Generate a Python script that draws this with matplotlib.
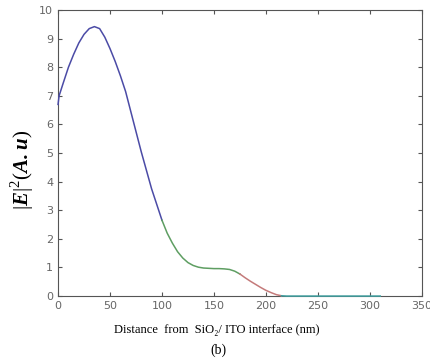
import matplotlib.pyplot as plt

# data: |E|^2 vs distance (nm)
dist = [0, 1, 5, 10, 15, 20, 25, 30, 35, 40, 45, 50, 55, 60, 65, 70, 75, 80,
        85, 90, 95, 100, 105, 110, 115, 120, 125, 130, 135, 140, 145, 150,
        155, 160, 165, 170, 175, 180, 185, 190, 195, 200, 205, 210, 215,
        220, 240, 260, 280, 300, 310]
field = [6.7, 7.0, 7.45, 8.0, 8.45, 8.85, 9.15, 9.35, 9.42, 9.35, 9.05, 8.65,
         8.2, 7.7, 7.15, 6.45, 5.75, 5.05, 4.4, 3.75, 3.2, 2.65, 2.2, 1.85,
         1.55, 1.33, 1.17, 1.07, 1.01, 0.98, 0.97, 0.96, 0.96, 0.95, 0.93,
         0.87, 0.77, 0.64, 0.52, 0.41, 0.3, 0.2, 0.12, 0.05, 0.01,
         0.0, 0.0, 0.0, 0.0, 0.0, 0.0]

# layer boundaries (nm) and colours of each segment
bounds = [0, 100, 175, 215, 310]
colors = ["#4b4ba6", "#5e9e62", "#c47a7a", "#3f9f9f"]

plt.rcParams['mathtext.fontset'] = 'custom'
plt.rcParams['mathtext.rm'] = 'Liberation Serif'
plt.rcParams['mathtext.bf'] = 'Liberation Serif:bold:italic'

fig = plt.figure(figsize=(4.3, 3.58), dpi=100)
ax = fig.add_axes([0.135, 0.173, 0.846, 0.799])

for i, c in enumerate(colors):
    xs = [x for x in dist if bounds[i] <= x <= bounds[i + 1]]
    ys = [field[dist.index(x)] for x in xs]
    ax.plot(xs, ys, color=c, linewidth=1.1, zorder=3, clip_on=False)

ax.set_xlim(0, 350)
ax.set_ylim(0, 10)
ax.set_xticks(range(0, 351, 50))
ax.set_yticks(range(0, 11))
ax.tick_params(direction='in', top=True, right=True, length=3,
               labelsize=8, colors='#555555', labelcolor='#666666')
for s in ax.spines.values():
    s.set_color('#555555')

ax.set_ylabel(r'$|\mathbf{E}|^{2}(\mathbf{A.u})$', fontsize=15)
ax.yaxis.set_label_coords(-0.06, 0.44)

fig.text(0.505, 0.078, "Distance  from  SiO\u2082/ ITO interface (nm)",
         ha='center', va='center', family='Liberation Serif', fontsize=9)
fig.text(0.507, 0.022, "(b)", ha='center', va='center',
         family='Liberation Serif', fontsize=10)

fig.savefig("out.png", dpi=100)
